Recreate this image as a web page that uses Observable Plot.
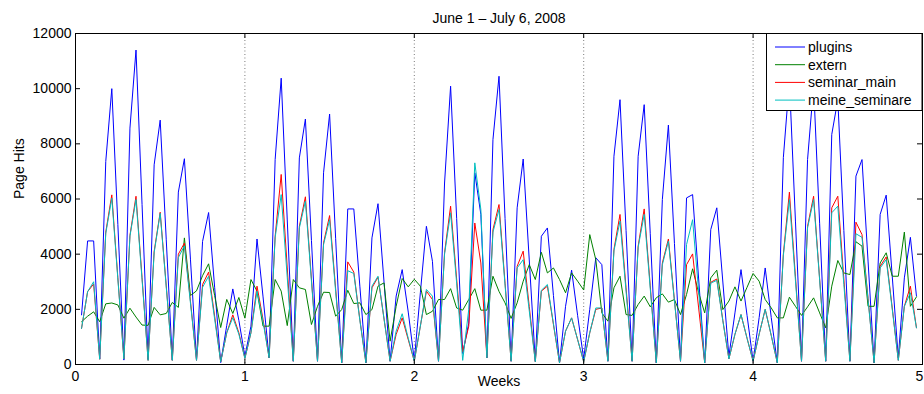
<!DOCTYPE html>
<html><head><meta charset="utf-8">
<script src="https://cdn.jsdelivr.net/npm/d3@7"></script>
<script src="https://cdn.jsdelivr.net/npm/@observablehq/plot@0.6"></script>
<style>body{margin:0;background:#fff} svg{display:block}</style>
</head><body><div id="chart"></div>
<script>
const titleText = "June 1 – July 6, 2008";
const xLabel = "Weeks";
const yLabel = "Page Hits";
const seriesNames = ["plugins", "extern", "seminar_main", "meine_seminare"];
const seriesColors = ["#0000ff", "#008000", "#ff0000", "#00bfbf"];
const samplesPerWeek = 28; // 4 samples per day
const xTicks = [0, 1, 2, 3, 4, 5];
const yTicks = [0, 2000, 4000, 6000, 8000, 10000, 12000];
const gridWeeks = [1, 2, 3, 4];

const plugins = [
1800,4480,4480,200, 7360,10000,5080,160, 8570,11400,5800,190, 7240,8860,4520,160,
6250,7460,3820,160, 4460,5510,2800,70, 1420,2740,1600,300, 1390,4550,2450,240,
7430,10380,5240,120, 7490,8900,4500,120, 6950,9080,4560,60, 5640,5640,2840,60,
4590,5830,2980,120, 2480,3440,1900,150, 2600,5010,3740,120, 6580,10090,5300,400,
1500,6950,5440,240, 8150,10450,5290,120, 5680,7450,3790,120, 4650,4950,2500,60,
2110,3420,1770,200, 2000,3870,3620,120, 7550,9600,4860,120, 7550,9420,4740,60,
5980,8680,4390,120, 6040,6160,3100,60, 4890,5680,2990,300, 1870,3440,1780,120,
1700,3500,1700,60, 7500,10300,5200,120, 7430,10100,5100,120, 8340,9600,4860,120,
6830,7430,3750,60, 5440,6140,3190,240, 3140,4610,2480];

const extern = [
1550,1750,1910,1550, 2200,2230,2160,1680, 2040,1720,1430,1420, 2070,1800,1850,2250,
2070,4590,2500,2670, 3220,3650,2500,1340, 2360,1850,2430,1680, 3080,2660,1390,1390,
3080,2660,1410,3080, 2780,2720,1450,2110, 2620,2610,1750,1990, 2690,2210,2235,1810,
1990,2840,2960,845, 2110,3117,2815,3090, 2840,1810,1930,2356, 2356,2750,2050,1970,
2356,2750,1970,1970, 3200,2650,2235,1670, 2235,3020,3620,3080, 4070,3320,3500,3080,
2600,3320,3020,2700, 4710,3800,1870,1570, 2780,3200,1810,1780, 2175,2480,2090,2420,
2560,2260,2356,1810, 2540,3470,2600,1870, 3140,3420,1990,2300, 2815,2300,2800,3300,
3020,2356,2050,1690, 1690,2440,2110,1780, 2090,2416,1870,1330, 2840,3770,3320,3260,
4450,4290,2110,2110, 3680,4050,3200,3200, 4800,2110,2450];

const seminarMain = [
1310,2640,2920,190, 4800,6150,3150,200, 4680,6100,3150,150, 4100,5520,2850,150,
4000,4400,2300,150, 2900,3350,1750,100, 1150,1800,1150,220, 1150,2840,1630,240,
4650,6890,3500,120, 5010,6080,3100,120, 4410,5400,2750,60, 3720,3350,1630,60,
2780,3165,1650,120, 1090,1690,900,120, 1390,2660,2356,120, 4050,5740,3100,450,
1390,5130,3680,240, 4890,5800,2950,120, 3560,4110,2100,100, 2660,2840,1450,60,
1210,1690,900,100, 1150,2000,2050,120, 4170,5440,2780,120, 4290,5640,2850,60,
3680,4550,2330,120, 3620,4010,2050,60, 2980,3100,1600,200, 1090,1810,950,120,
1100,2000,1050,60, 4000,6250,3180,120, 5010,6100,3100,120, 5680,6100,3100,120,
5160,4710,2400,60, 3560,3900,2050,150, 2110,2840,1330];

const meineSeminare = [
1310,2640,3000,190, 4750,6030,3100,200, 4650,5980,3080,150, 4050,5480,2800,150,
3880,4300,2230,150, 2800,3200,1650,100, 1150,1700,1100,220, 1150,2660,1550,240,
4600,6160,3150,120, 4950,5920,3020,120, 4350,5250,2650,60, 3400,3300,1600,60,
2840,3200,1650,120, 1210,1840,950,120, 1390,2720,2480,120, 4000,5500,2950,150,
2000,7310,5620,240, 4800,5620,2880,120, 3500,3800,1950,100, 2690,2900,1480,60,
1210,1690,900,100, 1150,2050,2050,120, 4120,5200,2660,120, 4250,5440,2750,60,
3620,4470,2300,120, 4350,5250,2650,60, 2950,3050,1580,200, 1100,1810,950,120,
1100,2000,1050,60, 3950,5980,3050,120, 4950,5980,3050,120, 5500,5740,2900,120,
4740,4610,2350,60, 3500,3800,2000,150, 2110,2600,1330];

const seriesValues = [plugins, extern, seminarMain, meineSeminare];
const table = seriesNames.flatMap((name, s) =>
  seriesValues[s].map((v, i) => ({week: (i + 1) / samplesPerWeek, hits: v, series: name})));

const W = 924, H = 394, mL = 75, mR = 2, mT = 33, mB = 30;
const frameW = W - mL - mR, frameH = H - mT - mB;
const font = "'Liberation Sans', Arial, Helvetica, sans-serif";
const lastTick = xTicks[xTicks.length - 1];

const chart = Plot.plot({
  width: W, height: H,
  marginLeft: mL, marginRight: mR, marginTop: mT, marginBottom: mB,
  style: {fontFamily: font, fontSize: "14px", background: "white", color: "black"},
  x: {domain: [0, 5], label: null},
  y: {domain: [0, 12000], label: null},
  color: {domain: seriesNames, range: seriesColors},
  marks: [
    Plot.ruleX(gridWeeks, {x: d => d, stroke: "#7a7a7a", strokeDasharray: "1,2.5", strokeWidth: 1}),
    Plot.line(table, {x: "week", y: "hits", z: "series", stroke: "series", strokeWidth: 1}),
    Plot.frame({stroke: "black"}),
    Plot.tickX(xTicks, {x: d => d, insetTop: frameH - 5, stroke: "black"}),
    Plot.tickX(xTicks, {x: d => d, insetBottom: frameH - 5, stroke: "black"}),
    Plot.tickY(yTicks, {y: d => d, insetRight: frameW - 5, stroke: "black"}),
    Plot.tickY(yTicks, {y: d => d, insetLeft: frameW - 5, stroke: "black"}),
    Plot.axisX(xTicks.slice(0, -1), {tickSize: 0, tickPadding: 7, tickFormat: d => String(d), label: null}),
    Plot.axisX([lastTick], {tickSize: 0, tickPadding: 7, dx: -3, tickFormat: d => String(d), label: null}),
    Plot.axisY(yTicks, {tickSize: 0, tickPadding: 4, tickFormat: d => String(d), label: null}),
    Plot.text([xLabel], {frameAnchor: "bottom", dy: 21, fontSize: 14}),
    Plot.text([yLabel], {frameAnchor: "left", dx: -56, rotate: -90, fontSize: 14}),
    Plot.text([titleText], {frameAnchor: "top", dy: -20, fontSize: 14})
  ]
});

// legend box (MATLAB style, top-right inside the axes)
const svg = d3.select(chart);
const lg = svg.append("g").attr("font-family", font).attr("font-size", 14).attr("text-anchor", "start");
lg.append("rect").attr("x", 766.5).attr("y", 33.5).attr("width", 155.5).attr("height", 77)
  .attr("fill", "white").attr("stroke", "black");
seriesNames.forEach((name, k) => {
  const cy = 47 + k * 17.7;
  lg.append("line").attr("x1", 775).attr("x2", 805).attr("y1", cy).attr("y2", cy)
    .attr("stroke", seriesColors[k]).attr("stroke-width", 1);
  lg.append("text").attr("x", 808).attr("y", cy).attr("dy", "0.35em")
    .attr("text-anchor", "start").attr("fill", "black").text(name);
});

document.getElementById("chart").appendChild(chart);
</script>
</body></html>
